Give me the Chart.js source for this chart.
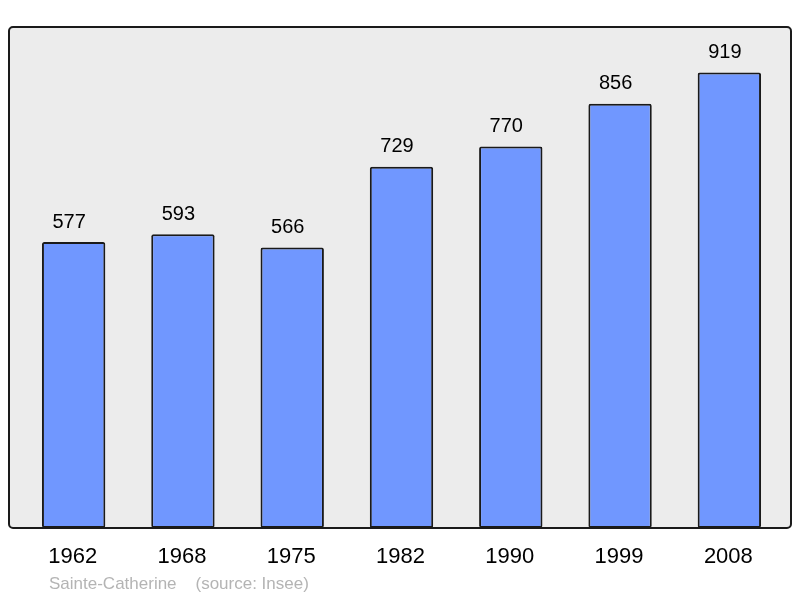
<!DOCTYPE html>
<html lang="fr">
  <head>
    <meta charset="UTF-8" />
    <title>Sainte-Catherine population</title>
    <script src="https://cdn.jsdelivr.net/npm/chart.js"></script>
    <style>
      html, body {
        margin: 0;
        padding: 0;
        background: #ffffff;
      }
      #wrap {
        width: 800px;
        height: 598px;
      }
    </style>
  </head>
  <body>
    <div id="wrap"><canvas id="popChart" width="800" height="598"></canvas></div>

    <script>
      const years = ["1962", "1968", "1975", "1982", "1990", "1999", "2008"];
      const population = [577, 593, 566, 729, 770, 856, 919];
      const footerText = "Sainte-Catherine    (source: Insee)";

      // frame box, background + border
      const framePlugin = {
        id: "frame",
        beforeDraw(chart) {
          const ctx = chart.ctx;
          ctx.save();
          ctx.beginPath();
          ctx.roundRect(9, 27, 782, 501, 4);
          ctx.fillStyle = "#ececec";
          ctx.fill();
          ctx.restore();
        },
        afterDraw(chart) {
          const ctx = chart.ctx;
          const xs = chart.scales.x;
          const ys = chart.scales.y;
          ctx.save();
          ctx.beginPath();
          ctx.roundRect(9, 27, 782, 501, 4);
          ctx.lineWidth = 2;
          ctx.strokeStyle = "#1a1a1a";
          ctx.stroke();

          ctx.fillStyle = "#000";
          ctx.textAlign = "center";
          ctx.textBaseline = "middle";
          ctx.font = "20px 'Liberation Sans', Arial, sans-serif";
          population.forEach((v, i) => {
            ctx.fillText(String(v), xs.getPixelForValue(i) - 4.5, ys.getPixelForValue(v) - 20);
          });

          ctx.font = "22px 'Liberation Sans', Arial, sans-serif";
          years.forEach((y, i) => {
            ctx.fillText(y, xs.getPixelForValue(i) - 1, 557);
          });

          ctx.fillStyle = "#b4b4b4";
          ctx.textAlign = "left";
          ctx.font = "17px 'Liberation Sans', Arial, sans-serif";
          ctx.fillText(footerText, 49, 584);
          ctx.restore();
        },
      };

      new Chart(document.getElementById("popChart"), {
        type: "bar",
        data: {
          labels: years,
          datasets: [
            {
              data: population,
              backgroundColor: "#7097ff",
              borderColor: "#1a1a1a",
              borderWidth: 2,
              borderRadius: 2,
              borderSkipped: false,
              categoryPercentage: 0.58,
              barPercentage: 1,
            },
          ],
        },
        options: {
          responsive: false,
          animation: false,
          layout: {
            padding: { left: 19, right: 16, top: 27, bottom: 70 },
          },
          plugins: {
            legend: { display: false },
            tooltip: { enabled: false },
          },
          scales: {
            x: { display: false },
            y: { display: false, min: 0, max: 1011 },
          },
        },
        plugins: [framePlugin],
      });
    </script>
  </body>
</html>
